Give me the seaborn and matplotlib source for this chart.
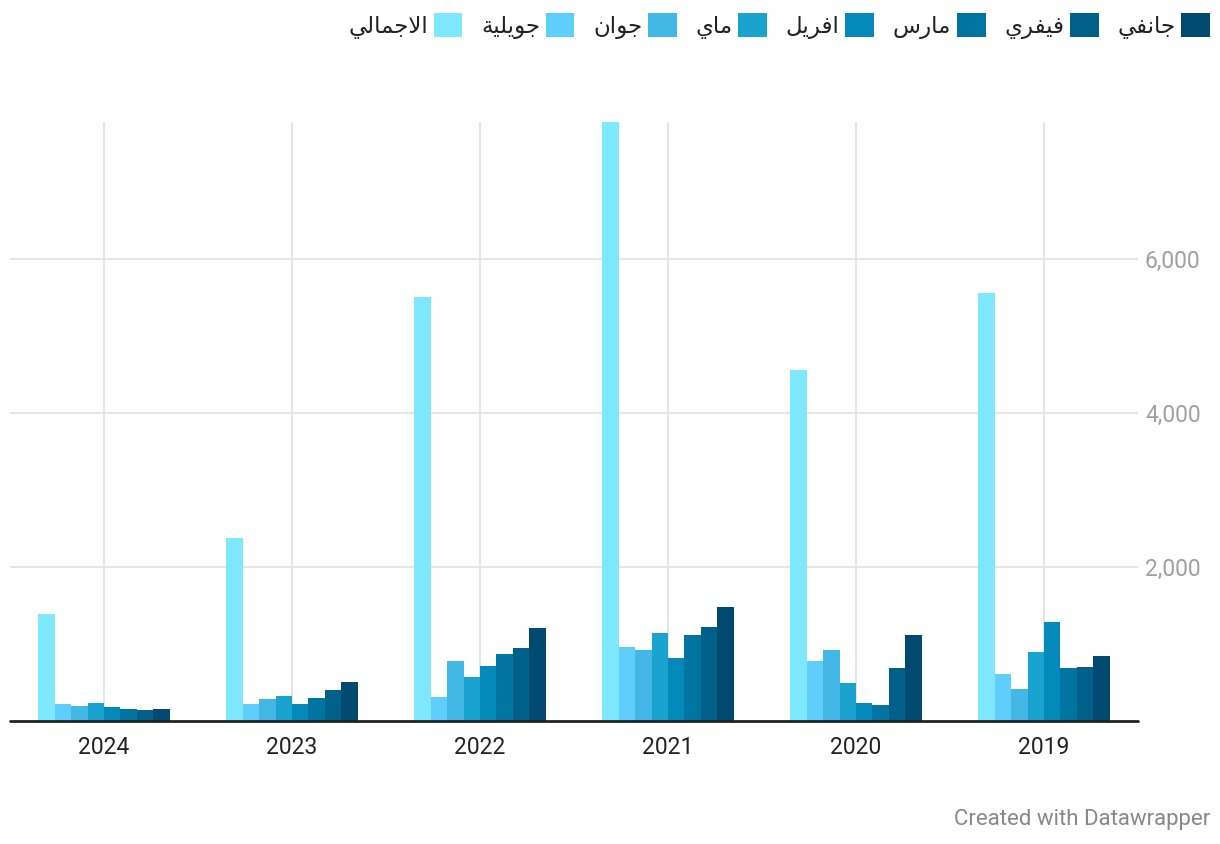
import matplotlib
matplotlib.use("Agg")
import matplotlib.pyplot as plt
import seaborn as sns
import pandas as pd
from matplotlib.patches import Patch
from matplotlib.ticker import FuncFormatter

# ---------------- data ----------------
years = ["2024", "2023", "2022", "2021", "2020", "2019"]
series = ["الاجمالي", "جويلية", "جوان", "ماي", "افريل", "مارس", "فيفري", "جانفي"]
total   = [1394, 2377, 5506, 7780, 4558, 5558]
july    = [225, 225, 316, 966, 784, 615]
june    = [199, 290, 784, 927, 927, 420]
may     = [238, 329, 576, 1148, 498, 901]
april   = [186, 225, 719, 823, 238, 1291]
march   = [160, 303, 875, 1122, 212, 693]
feb     = [147, 407, 953, 1225, 693, 706]
jan     = [160, 511, 1212, 1485, 1122, 849]
yticks = [2000, 4000, 6000]
colors = ["#7ee8ff", "#5fcefd", "#43b7e6", "#1ba3d0", "#038aba", "#0174a1", "#00608a", "#004a72"]

values = [total, july, june, may, april, march, feb, jan]
rows = []
for s, vals in zip(series, values):
    for y, v in zip(years, vals):
        rows.append({"year": y, "series": s, "value": v})
df = pd.DataFrame(rows)

# ---------------- minimal Arabic shaping (matplotlib has no shaping) ----------------
FORMS = {  # isolated, final, initial, medial
    "ا": ("\uFE8D", "\uFE8E", None, None),
    "ج": ("\uFE9D", "\uFE9E", "\uFE9F", "\uFEA0"),
    "ن": ("\uFEE5", "\uFEE6", "\uFEE7", "\uFEE8"),
    "ف": ("\uFED1", "\uFED2", "\uFED3", "\uFED4"),
    "ي": ("\uFEF1", "\uFEF2", "\uFEF3", "\uFEF4"),
    "ر": ("\uFEAD", "\uFEAE", None, None),
    "س": ("\uFEB1", "\uFEB2", "\uFEB3", "\uFEB4"),
    "م": ("\uFEE1", "\uFEE2", "\uFEE3", "\uFEE4"),
    "و": ("\uFEED", "\uFEEE", None, None),
    "ل": ("\uFEDD", "\uFEDE", "\uFEDF", "\uFEE0"),
    "ة": ("\uFE93", "\uFE94", None, None),
}


def shape(word):
    chars = list(word)
    out = []
    i = 0
    n = len(chars)
    while i < n:
        c = chars[i]
        prev_joins = i > 0 and chars[i - 1] in FORMS and FORMS[chars[i - 1]][2] is not None
        if c == "ل" and i + 1 < n and chars[i + 1] == "ا":
            out.append("\uFEFC" if prev_joins else "\uFEFB")
            i += 2
            continue
        f = FORMS.get(c)
        if f is None:
            out.append(c)
            i += 1
            continue
        next_joins = f[2] is not None and i + 1 < n and chars[i + 1] in FORMS
        if prev_joins and next_joins:
            out.append(f[3])
        elif prev_joins:
            out.append(f[1])
        elif next_joins:
            out.append(f[2])
        else:
            out.append(f[0])
        i += 1
    return "".join(reversed(out))


# ---------------- figure ----------------
sns.set_theme(style="white")
plt.rcParams["font.family"] = ["Roboto", "DejaVu Sans"]

W, H = 1220, 844
fig = plt.figure(figsize=(W / 100, H / 100), dpi=100)
ax = fig.add_axes([10 / W, 1 - 721 / H, (1138 - 10) / W, (721 - 122) / H])

sns.barplot(data=df, x="year", y="value", hue="series", order=years,
            hue_order=series, palette=colors, width=0.7, dodge=True,
            saturation=1, errorbar=None, legend=False, ax=ax, zorder=3,
            linewidth=0)

ax.set_ylim(0, 7780)
ax.set_xlim(-0.5, len(years) - 0.5)
ax.set_xlabel("")
ax.set_ylabel("")
for sp in ax.spines.values():
    sp.set_visible(False)

ax.yaxis.tick_right()
ax.set_yticks(yticks)
ax.yaxis.set_major_formatter(FuncFormatter(lambda v, p: f"{int(v):,}"))
ax.tick_params(axis="y", length=0, pad=5, labelsize=16.5, labelcolor="#a0a0a0")
ax.tick_params(axis="x", length=0, pad=11, labelsize=16.5, labelcolor="#222222")
ax.grid(True, axis="both", color="#e3e3e3", linewidth=1.3, zorder=0)
ax.set_axisbelow(True)
ax.axhline(0, color="#222222", linewidth=2, zorder=5, clip_on=False)

# legend (right-to-left)
handles = [Patch(facecolor=c, edgecolor="none") for c in colors]
labels = [shape(s) for s in series]
leg = fig.legend(handles, labels, loc="upper right", ncol=len(series),
                 bbox_to_anchor=(1210 / W, 1 - 13 / H), frameon=False,
                 markerfirst=False, fontsize=16.5, handlelength=1.25,
                 handleheight=1.25, handletextpad=0.25, columnspacing=0.82,
                 borderpad=0, borderaxespad=0)
for t in leg.get_texts():
    t.set_color("#222222")
    t.set_family(["DejaVu Sans"])

fig.text(1210 / W, 1 - 819 / H, "Created with Datawrapper", ha="right",
         va="center", fontsize=16, color="#888888")

fig.savefig("out.png", dpi=100, facecolor="white")
